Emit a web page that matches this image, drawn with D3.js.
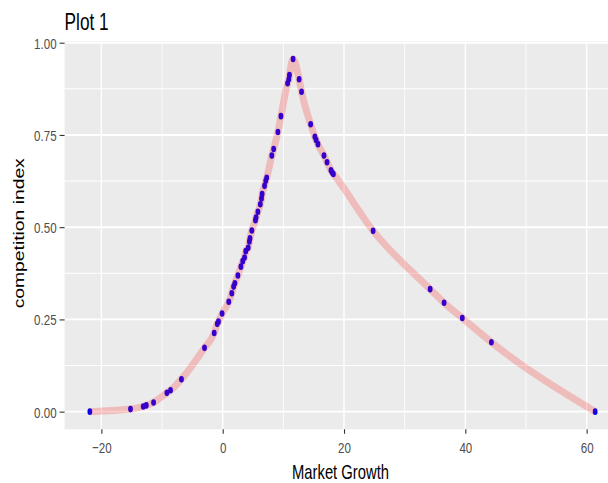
<!DOCTYPE html>
<html>
<head>
<meta charset="utf-8">
<script src="https://cdn.jsdelivr.net/npm/d3@7"></script>
<style>
  body { margin: 0; background: #fff; }
  text { font-family: "Liberation Sans", Arial, sans-serif; }
</style>
</head>
<body>
<svg id="chart"></svg>
<script>
// Data
const growth = [-21.9, -15.2, -13.1, -12.6, -11.4, -9.2, -8.6, -6.8, -3.0, -1.4,
  -0.9, -0.7, -0.1, 1.0, 1.5, 1.8, 2.0, 2.5, 3.0, 3.3,
  3.6, 3.8, 4.2, 4.4, 4.5, 4.8, 5.4, 5.5, 5.8, 6.2,
  6.4, 6.5, 6.9, 7.1, 7.25, 8.1, 8.4, 9.1, 9.6, 10.7,
  10.9, 11.0, 11.6, 12.6, 13.0, 14.5, 15.2, 15.4, 15.7, 16.7,
  17.2, 17.85, 18.05, 18.25, 24.8, 34.2, 36.5, 39.5, 44.3, 61.4];
const competition = [0.000, 0.007, 0.014, 0.017, 0.025, 0.051, 0.058, 0.088, 0.173, 0.213,
  0.238, 0.244, 0.266, 0.298, 0.321, 0.339, 0.348, 0.369, 0.393, 0.408,
  0.418, 0.435, 0.444, 0.461, 0.470, 0.491, 0.519, 0.526, 0.542, 0.562,
  0.578, 0.590, 0.612, 0.626, 0.634, 0.694, 0.712, 0.758, 0.801, 0.890,
  0.901, 0.912, 0.956, 0.901, 0.867, 0.779, 0.745, 0.736, 0.725, 0.694,
  0.676, 0.654, 0.648, 0.644, 0.490, 0.332, 0.295, 0.254, 0.188, 0.000];
const xTicks = [-20, 0, 20, 40, 60];
const xMinor = [-10, 10, 30, 50];
const yTicks = [0, 0.25, 0.5, 0.75, 1];
const yMinor = [0.125, 0.375, 0.625, 0.875];

const data = growth.map((g, i) => ({x: g, y: competition[i]}));

const W = 608, H = 483;
const margin = {top: 41.3, left: 64.6},
      width = 555.8,
      height = 388;
const sx = 0.75; // horizontal squeeze of the text in the picture

const svg = d3.select("#chart").attr("width", W).attr("height", H);

// ggplot-style 5% expansion
const xExt = d3.extent(growth), yExt = d3.extent(competition);
const xPad = (xExt[1] - xExt[0]) * 0.05, yPad = (yExt[1] - yExt[0]) * 0.05;

const x = d3.scaleLinear()
    .domain([xExt[0] - xPad, xExt[1] + xPad])
    .range([0, width]);
const y = d3.scaleLinear()
    .domain([yExt[0] - yPad, yExt[1] + yPad])
    .range([height, 0]);

const g = svg.append("g")
    .attr("transform", `translate(${margin.left},${margin.top})`);

// Panel
g.append("rect")
    .attr("width", width)
    .attr("height", height)
    .attr("fill", "#EBEBEB");

// Grid lines
g.selectAll(".ygrid-minor").data(yMinor).enter().append("line")
    .attr("x1", 0).attr("x2", width)
    .attr("y1", d => y(d)).attr("y2", d => y(d))
    .attr("stroke", "#fff").attr("stroke-width", 1);
g.selectAll(".xgrid-minor").data(xMinor).enter().append("line")
    .attr("y1", 0).attr("y2", height)
    .attr("x1", d => x(d)).attr("x2", d => x(d))
    .attr("stroke", "#fff").attr("stroke-width", 0.8);
g.selectAll(".ygrid").data(yTicks).enter().append("line")
    .attr("x1", 0).attr("x2", width)
    .attr("y1", d => y(d)).attr("y2", d => y(d))
    .attr("stroke", "#fff").attr("stroke-width", 1.9);
g.selectAll(".xgrid").data(xTicks).enter().append("line")
    .attr("y1", 0).attr("y2", height)
    .attr("x1", d => x(d)).attr("x2", d => x(d))
    .attr("stroke", "#fff").attr("stroke-width", 1.4);

// Points (line is drawn over them, semi-transparent)
g.selectAll(".pt").data(data).enter().append("ellipse")
    .attr("cx", d => x(d.x))
    .attr("cy", d => y(d.y))
    .attr("rx", 2.4)
    .attr("ry", 3.3)
    .attr("fill", "blue");

const line = d3.line()
    .x(d => x(d.x))
    .y(d => y(d.y))
    .curve(d3.curveMonotoneX);

g.append("path")
    .datum(data)
    .attr("d", line)
    .attr("fill", "none")
    .attr("stroke", "red")
    .attr("stroke-opacity", 0.2)
    .attr("stroke-width", 7)
    .attr("stroke-linejoin", "round");

// Y axis
const yAxis = g.append("g")
    .call(d3.axisLeft(y).tickValues(yTicks).tickSize(5).tickFormat(d3.format(".2f")));
yAxis.select(".domain").remove();
yAxis.selectAll("line").attr("stroke", "#333").attr("stroke-width", 1.1);
yAxis.selectAll("text")
    .attr("x", -8 / sx)
    .attr("dy", "0.36em")
    .attr("transform", `scale(${sx},1)`)
    .style("font-size", "15.4px")
    .style("font-family", "Liberation Sans, Arial, sans-serif")
    .attr("fill", "#4D4D4D");

// X axis
const xAxis = g.append("g")
    .attr("transform", `translate(0,${height})`)
    .call(d3.axisBottom(x).tickValues(xTicks).tickSize(4.5));
xAxis.select(".domain").remove();
xAxis.selectAll("line").attr("stroke", "#333").attr("stroke-width", 1.1);
xAxis.selectAll("text")
    .attr("y", 23.7)
    .attr("dy", 0)
    .attr("transform", `scale(${sx},1)`)
    .attr("x", function(d) { return 0; })
    .style("font-size", "15.4px")
    .style("font-family", "Liberation Sans, Arial, sans-serif")
    .attr("fill", "#4D4D4D");
// keep tick labels centred on ticks after the squeeze
xAxis.selectAll(".tick text").attr("transform", `scale(${sx},1)`);

// Titles
svg.append("text")
    .attr("transform", `translate(${margin.left},30) scale(${sx},1)`)
    .style("font-size", "23px")
    .attr("fill", "#000")
    .text("Plot 1");

svg.append("text")
    .attr("transform", `translate(${margin.left + width / 2 - 2},479) scale(0.74,1)`)
    .attr("text-anchor", "middle")
    .style("font-size", "20px")
    .attr("fill", "#000")
    .text("Market Growth");

svg.append("text")
    .attr("transform", `translate(24,${margin.top + height / 2 - 2}) scale(${sx},1) rotate(-90)`)
    .attr("text-anchor", "middle")
    .style("font-size", "19.3px")
    .attr("fill", "#000")
    .text("competition index");
</script>
</body>
</html>
